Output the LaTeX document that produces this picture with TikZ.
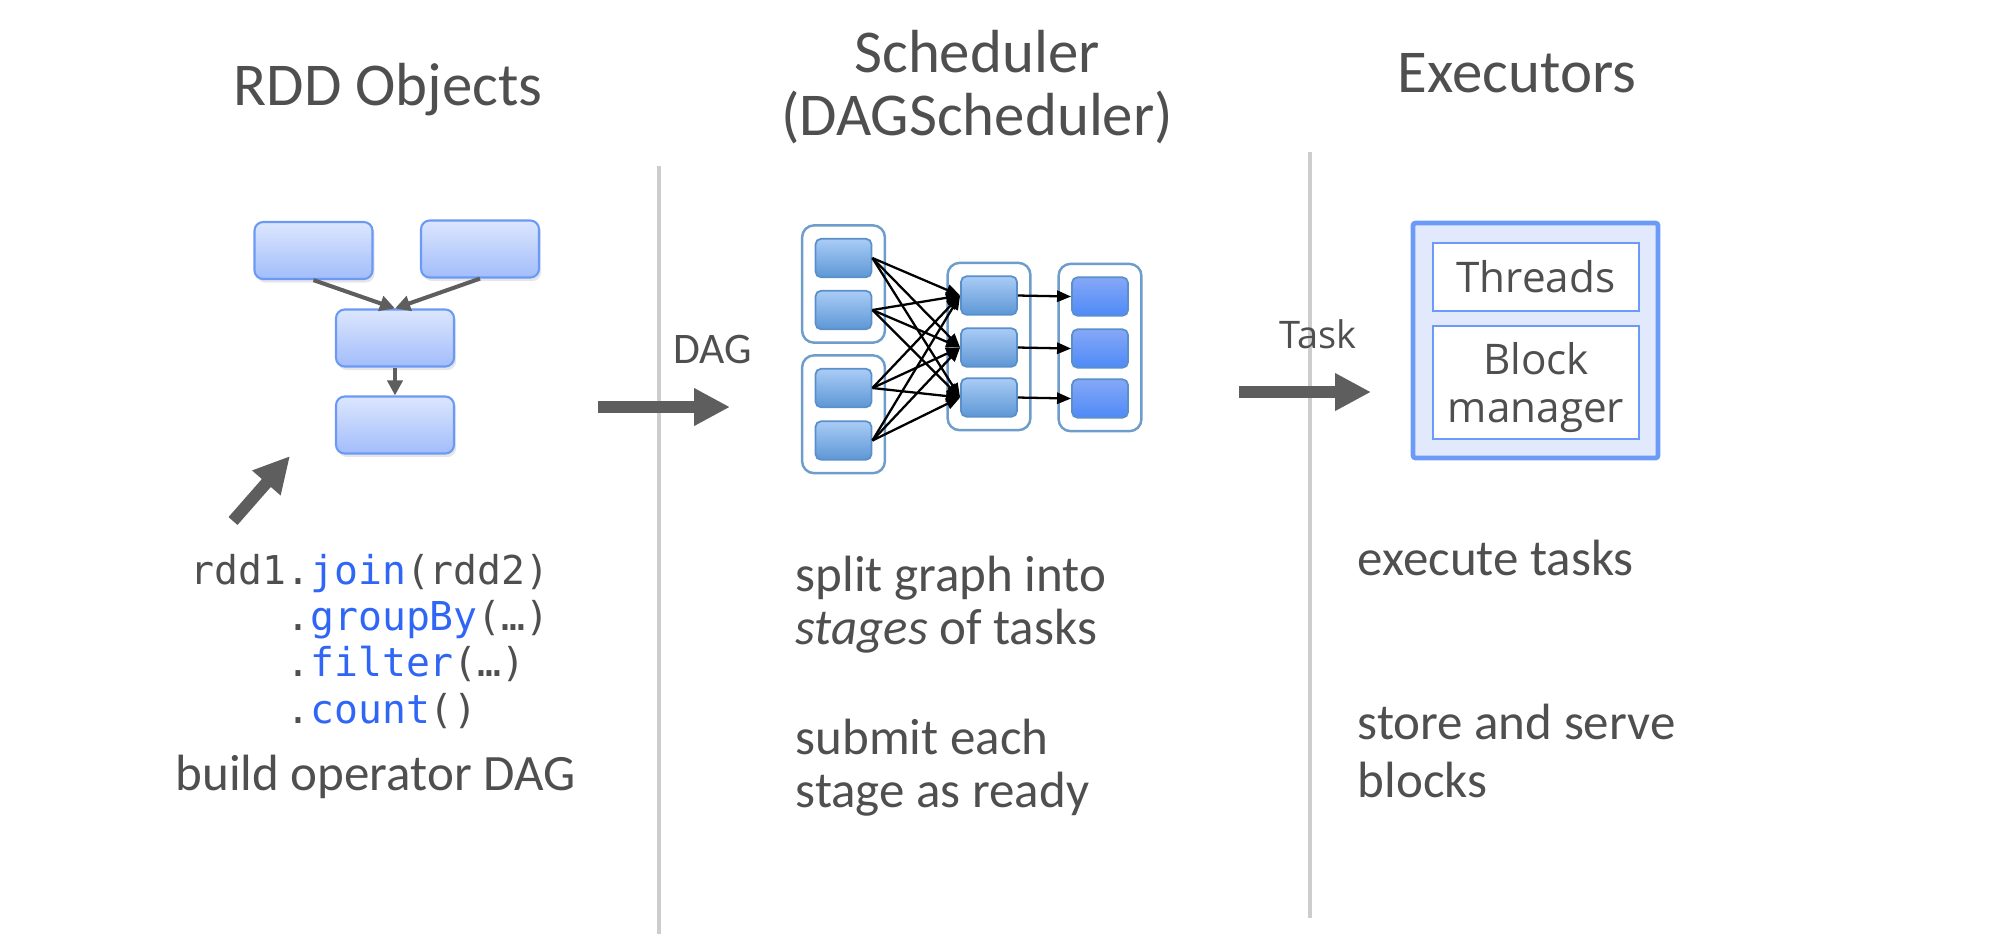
\documentclass[tikz,border=0pt]{standalone}
\usepackage{fontspec}
\setmainfont{Carlito}
\setmonofont{DejaVu Sans Mono}
\newfontfamily\boxfont{Open Sans}
\usetikzlibrary{arrows.meta, fit, backgrounds, shadows}
\definecolor{ctext}{HTML}{4F4F4F}
\definecolor{carrow}{HTML}{5E5E5E}
\definecolor{csep}{HTML}{CDCDCD}
\definecolor{cblue}{HTML}{2F66F5}
\definecolor{crddtop}{HTML}{DCE6FD}
\definecolor{crddbot}{HTML}{A2BDFB}
\definecolor{crddline}{HTML}{6A9AF6}
\definecolor{cstagetop}{HTML}{A9CCF6}
\definecolor{cstagebot}{HTML}{5E97D5}
\definecolor{cstageline}{HTML}{5A90CA}
\definecolor{cresulttop}{HTML}{86A8F7}
\definecolor{cresultbot}{HTML}{4E8AF7}
\definecolor{cgroup}{HTML}{6E9DCB}
\definecolor{cexec}{HTML}{6B9BF7}
\definecolor{cexecfill}{HTML}{E3E9FD}
\tikzset{
  every picture/.style={x=0.01cm, y=-0.01cm, text=ctext},
  title/.style={font=\fontsize{17.3pt}{18.5pt}\selectfont, anchor=base, inner sep=0pt},
  body/.style={font=\fontsize{14.5pt}{15pt}\selectfont, align=left, anchor=base west, inner sep=0pt},
  code/.style={font=\ttfamily\fontsize{11.3pt}{13.1pt}\selectfont, align=left, anchor=base west, inner sep=0pt},
  small/.style={font=\fontsize{12.4pt}{14pt}\selectfont, anchor=base west, inner sep=0pt},
  sep/.style={draw=csep, line width=1.25pt},
  bigarrow/.style={-{Triangle[length=10.2pt, width=10pt]}, draw=carrow, line width=3.4pt},
  flow/.style={-{Triangle[length=4.3pt, width=4.3pt]}, draw=carrow, line width=1.15pt},
  dep/.style={-{Triangle[length=4pt, width=3.2pt]}, draw=black, line width=0.65pt},
  rdd/.style={draw=crddline, top color=crddtop, bottom color=crddbot, line width=0.6pt,
    rounded corners=2.5pt, minimum width=1.18cm, minimum height=0.57cm, inner sep=0pt,
    drop shadow={opacity=0.2, shadow xshift=0.6pt, shadow yshift=-1pt}},
  stagebox/.style={draw=cstageline, top color=cstagetop, bottom color=cstagebot, line width=0.5pt,
    rounded corners=1.6pt, minimum width=0.56cm, minimum height=0.385cm, inner sep=0pt},
  group/.style={draw=cgroup, fill=white, line width=0.7pt, rounded corners=3.4pt, inner sep=0.125cm},
  execbox/.style={draw=cexec, fill=cexecfill, line width=1.35pt, rounded corners=0.8pt,
    minimum width=2.45cm, minimum height=2.35cm, inner sep=0pt},
  execpart/.style={draw=cexec, fill=white, line width=0.6pt, minimum width=2.06cm, minimum height=0.68cm,
    inner sep=0pt, align=center, font=\boxfont\fontsize{12pt}{13.6pt}\selectfont},
}
\newcommand{\rddop}[1]{\textcolor{cblue}{#1}}

\begin{document}
\begin{tikzpicture}
  \useasboundingbox (0,0) rectangle (1998,944);
  % column separators
  \draw[sep] (659,166) -- (659,934);
  \draw[sep] (1310,152) -- (1310,918);
  % titles
  \node[title] (trdd) at (388,105) {RDD Objects};
  \node[title] (tsched) at (977,72) {Scheduler};
  \node[title] (tschedb) at (977,135) {(DAGScheduler)};
  \node[title] (texec) at (1517,92) {Executors};

  % left: rdd objects
  \node[rdd] (ra) at (313.5,250.5) {};
  \node[rdd] (rb) at (480,249) {};
  \node[rdd] (rc) at (395,338) {};
  \node[rdd] (rd) at (395,425) {};
  \draw[flow] (ra.south) -- (rc.north);
  \draw[flow] (rb.south) -- (rc.north);
  \draw[flow] (rc) -- (rd);
  \coordinate (ptail) at (233,521);
  \coordinate (phead) at (290,456);
  \draw[bigarrow] (ptail) -- (phead);
  \node[code] (code) at (190,723) {rdd1.\rddop{join}(rdd2)\\
    \phantom{rdd1}.\rddop{groupBy}(…)\\
    \phantom{rdd1}.\rddop{filter}(…)\\
    \phantom{rdd1}.\rddop{count}()};
  \node[body] (build) at (175,790) {build operator DAG};

  % dag handed over
  \coordinate (dagfrom) at (598,407);
  \coordinate (dagto) at (730,407);
  \draw[bigarrow] (dagfrom) -- (dagto);
  \node[small] (daglbl) at (673,363) {DAG};

  % middle: stages
  \foreach \y [count=\i] in {258,310,388,440.5}
    \node[stagebox] (l\i) at (843.5,\y) {};
  \foreach \y [count=\i] in {295.5,347.5,397.5}
    \node[stagebox] (m\i) at (989,\y) {};
  \foreach \y [count=\i] in {296.5,348.5,398.5}
    \node[stagebox, top color=cresulttop, bottom color=cresultbot] (r\i) at (1100,\y) {};
  \begin{scope}[on background layer]
    \node[group, fit=(l1)(l2)] (ga) {};
    \node[group, fit=(l3)(l4)] (gb) {};
    \node[group, fit=(m1)(m3)] (gc) {};
    \node[group, fit=(r1)(r3)] (gd) {};
  \end{scope}
  \foreach \i in {1,...,4}
    \foreach \j in {1,2,3}
      \draw[dep] (l\i.east) -- (m\j.west);
  \foreach \j in {1,2,3}
    \draw[dep] (m\j.east) -- (r\j.west);
  \node[body] (split) at (795,644) {split graph into\\\textit{stages} of tasks};
  \node[body] (submit) at (795,807) {submit each\\stage as ready};

  % tasks handed over
  \coordinate (taskfrom) at (1239,392);
  \coordinate (taskto) at (1371,392);
  \draw[bigarrow] (taskfrom) -- (taskto);
  \node[small, font=\boxfont\fontsize{10.8pt}{12pt}\selectfont] (tasklbl) at (1279,348) {Task};

  % right: executors
  \node[execbox] (exec) at (1535.5,340.5) {};
  \node[execpart] (threads) at (1536,277) {Threads};
  \node[execpart, minimum height=1.13cm, text depth=0pt] (blockmgr) at (1536,382.5) {Block\\manager};
  \node[body] (exectasks) at (1357,575) {execute tasks};
  \node[body] (store) at (1357,797) {store and serve\\[1.5pt]blocks};
\end{tikzpicture}
\end{document}
